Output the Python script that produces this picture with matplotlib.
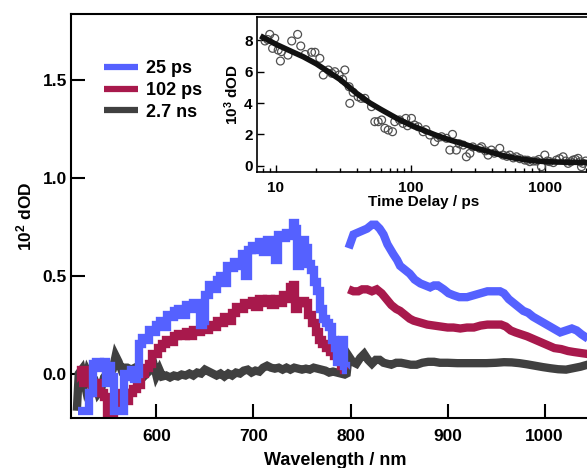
import numpy as np
import matplotlib
matplotlib.use("Agg")
import matplotlib.pyplot as plt
from matplotlib.ticker import FixedLocator, NullFormatter

plt.rcParams['font.family'] = ['Liberation Sans', 'DejaVu Sans']
plt.rcParams['font.weight'] = 'bold'
plt.rcParams['mathtext.default'] = 'regular'

# ---- transient spectra (wavelength in nm, 10^2 dOD) ----
# 25 ps, part below the 800 nm break
wl_25a = [519, 524, 529, 533, 536, 540, 544, 547, 550, 552, 555, 558, 562, 566, 568, 572, 575, 578,
          581, 584, 587, 590, 594, 598, 602, 606, 609, 612, 616, 620, 624, 628, 632, 636, 640, 643,
          646, 649, 652, 656, 660, 664, 668, 671, 674, 678, 682, 686, 690, 693, 696, 700, 704, 708,
          712, 716, 720, 724, 727, 731, 735, 739, 742, 744, 746, 749, 752, 755, 758, 761, 764, 767,
          770, 773, 776, 779, 782, 785, 788, 790, 792, 794, 796]
od_25a = [-0.19, -0.19, -0.19, -0.10, 0.05, 0.06, 0.03, 0.06, -0.05, 0.04, -0.02, -0.19, -0.19, -0.19,
          0.0, -0.02, 0.02, -0.03, 0.0, 0.15, 0.18, 0.17, 0.22, 0.21, 0.25, 0.27, 0.24, 0.30, 0.29,
          0.32, 0.33, 0.30, 0.35, 0.33, 0.36, 0.34, 0.25, 0.27, 0.40, 0.45, 0.43, 0.48, 0.50, 0.46,
          0.55, 0.54, 0.57, 0.55, 0.61, 0.50, 0.63, 0.65, 0.63, 0.67, 0.62, 0.68, 0.66, 0.58, 0.71,
          0.69, 0.72, 0.70, 0.77, 0.74, 0.55, 0.60, 0.68, 0.64, 0.56, 0.53, 0.47, 0.42, 0.33, 0.28,
          0.26, 0.24, 0.17, 0.13, 0.06, 0.10, 0.17, 0.04, 0.02]
# 25 ps, part above the break
wl_25b = [798, 803, 810, 817, 822, 826, 830, 834, 838, 844, 848, 851, 856, 861, 866, 872, 877, 882,
          886, 890, 896, 901, 906, 912, 920, 927, 934, 941, 948, 954, 958, 963, 968, 973, 978, 983,
          988, 995, 1002, 1009, 1016, 1022, 1028, 1033, 1038, 1044, 1050, 1056]
od_25b = [0.64, 0.71, 0.725, 0.74, 0.76, 0.76, 0.74, 0.71, 0.66, 0.61, 0.58, 0.55, 0.53, 0.51, 0.48,
          0.46, 0.45, 0.44, 0.45, 0.45, 0.43, 0.41, 0.40, 0.39, 0.39, 0.40, 0.41, 0.42, 0.42, 0.42,
          0.41, 0.38, 0.36, 0.34, 0.32, 0.31, 0.29, 0.27, 0.25, 0.23, 0.21, 0.22, 0.23, 0.22, 0.20,
          0.18, 0.16, 0.15]

wl_102a = [520, 524, 528, 532, 536, 540, 544, 548, 551, 555, 558, 562, 566, 570, 574, 578, 582, 586,
           590, 594, 597, 600, 604, 608, 612, 616, 620, 624, 628, 632, 636, 640, 644, 648, 652, 656,
           660, 664, 668, 672, 676, 680, 684, 688, 692, 696, 700, 704, 708, 712, 716, 720, 724, 728,
           732, 736, 740, 742, 744, 747, 751, 755, 758, 762, 766, 769, 773, 777, 781, 785, 789, 792, 795]
od_102a = [-0.05, 0.02, 0.02, -0.05, -0.10, -0.05, -0.10, -0.12, -0.20, -0.20, -0.15, -0.12, -0.10,
           -0.14, -0.10, -0.08, -0.06, 0.0, 0.03, 0.05, 0.10, 0.10, 0.13, 0.15, 0.17, 0.16, 0.19, 0.20,
           0.19, 0.21, 0.19, 0.22, 0.21, 0.23, 0.22, 0.25, 0.24, 0.27, 0.26, 0.29, 0.27, 0.31, 0.34,
           0.33, 0.36, 0.35, 0.37, 0.34, 0.38, 0.36, 0.38, 0.35, 0.38, 0.36, 0.40, 0.38, 0.44, 0.45,
           0.33, 0.36, 0.37, 0.36, 0.30, 0.26, 0.21, 0.17, 0.15, 0.13, 0.11, 0.09, 0.07, 0.04, 0.02]
wl_102b = [798, 803, 808, 812, 817, 822, 827, 832, 837, 842, 847, 851, 856, 861, 865, 872, 879, 886,
           893, 900, 906, 913, 920, 927, 934, 941, 948, 955, 960, 965, 970, 976, 982, 989, 996, 1003,
           1010, 1017, 1024, 1030, 1037, 1044, 1050, 1056]
od_102b = [0.43, 0.42, 0.42, 0.43, 0.43, 0.42, 0.43, 0.41, 0.38, 0.35, 0.33, 0.32, 0.30, 0.28, 0.27,
           0.26, 0.25, 0.245, 0.24, 0.235, 0.235, 0.23, 0.235, 0.235, 0.245, 0.25, 0.25, 0.25, 0.24,
           0.22, 0.21, 0.20, 0.19, 0.175, 0.16, 0.145, 0.13, 0.125, 0.115, 0.11, 0.105, 0.10, 0.095, 0.09]

wl_27 = [518, 520, 523, 526, 529, 532, 536, 540, 543, 546, 549, 552, 555, 558, 561, 564, 567, 570,
         574, 578, 582, 586, 590, 594, 597, 600, 603, 606, 610, 614, 618, 622, 626, 630, 634, 638,
         642, 646, 650, 654, 658, 662, 666, 670, 674, 678, 682, 686, 690, 694, 698, 702, 706, 710,
         714, 718, 722, 726, 730, 734, 738, 742, 746, 750, 754, 758, 762, 766, 770, 774, 778, 782,
         786, 790, 794, 796, 798, 802, 806, 810, 814, 818, 822, 826, 830, 834, 838, 842, 847, 852,
         857, 862, 868, 874, 880, 886, 892, 900, 910, 920, 930, 940, 950, 958, 966, 974, 982, 990,
         998, 1006, 1014, 1022, 1030, 1037, 1044, 1050, 1056]
od_27 = [-0.19, 0.0, 0.02, -0.05, 0.01, -0.02, -0.03, -0.10, -0.08, -0.02, 0.0, 0.0, 0.02, 0.09, 0.06,
         0.02, 0.03, 0.03, 0.02, 0.03, 0.01, -0.02, 0.0, 0.02, 0.05, -0.01, 0.02, -0.015, -0.01, -0.02,
         -0.01, -0.015, -0.005, -0.01, 0.0, -0.01, 0.005, 0.0, 0.02, 0.01, 0.0, -0.01, 0.0, -0.015,
         0.0, -0.01, 0.005, 0.0, 0.015, 0.02, 0.005, 0.015, 0.01, 0.03, 0.04, 0.03, 0.025, 0.03, 0.02,
         0.03, 0.02, 0.03, 0.025, 0.02, 0.025, 0.02, 0.03, 0.025, 0.02, 0.015, 0.005, 0.01, 0.005,
         0.0, -0.005, 0.0, 0.09, 0.06, 0.05, 0.08, 0.10, 0.07, 0.05, 0.07, 0.07, 0.055, 0.05, 0.045,
         0.055, 0.055, 0.05, 0.045, 0.045, 0.055, 0.06, 0.06, 0.055, 0.055, 0.053, 0.053, 0.053,
         0.053, 0.055, 0.058, 0.057, 0.053, 0.047, 0.04, 0.033, 0.027, 0.022, 0.02, 0.028, 0.035,
         0.045, 0.05, 0.05]

# ---- kinetic trace (time in ps, 10^3 dOD) ----
t_pts = [8.3, 9.0, 9.8, 9.45, 10.4, 11.0, 10.8, 12.3, 13.1, 14.5, 15.3, 18.4, 19.5, 21.2, 22.5, 24.5,
         27.4, 29.5, 32.5, 31.3, 35.0, 35.4, 37.5, 40.8, 45.8, 51.3, 54.3, 57.5, 61.0, 64.5, 68.3,
         73.5, 76.4, 83.0, 88.0, 92.3, 101.6, 107, 113.7, 124, 139, 151, 170, 185, 205, 196, 219,
         246, 260, 276, 327, 337, 377, 399, 460, 487, 546, 612, 706, 769, 861, 939, 994, 1082, 1213,
         1359, 1481, 1612, 1756, 1912, 1862, 8.7, 16.5, 26.0, 43.0, 95.0, 130, 160, 230, 290, 360,
         420, 520, 580, 650, 740, 820, 900, 1040, 1150, 1280, 1420, 1550, 1680, 1820, 2000]
od_pts = [7.96, 8.38, 8.13, 7.49, 7.38, 7.28, 6.68, 7.06, 7.96, 8.38, 7.64, 7.24, 7.24, 6.85, 5.79,
          6.11, 6.0, 5.79, 6.11, 5.51, 5.04, 3.98, 4.68, 4.4, 4.3, 3.77, 2.81, 2.81, 2.92, 2.39, 2.28,
          2.17, 2.81, 2.92, 2.7, 3.02, 3.02, 2.6, 2.49, 2.17, 1.96, 1.53, 1.85, 1.75, 2.0, 1.0, 1.0,
          1.32, 0.57, 0.79, 1.11, 1.21, 0.68, 1.0, 1.11, 0.68, 0.68, 0.57, 0.36, 0.26, 0.3, -0.06,
          0.68, 0.26, 0.36, 0.57, 0.15, 0.36, 0.47, 0.15, -0.06, 8.05, 7.1, 5.9, 4.3, 2.55, 2.3, 1.8,
          1.4, 1.2, 0.95, 0.8, 0.6, 0.5, 0.45, 0.35, 0.3, 0.4, 0.3, 0.2, 0.45, 0.3, 0.25, 0.4, 0.25, 0.3]
t_fit = [8, 10, 13, 16, 20, 25, 30, 40, 50, 60, 80, 100, 130, 160, 200, 250, 300, 400, 500, 600,
         800, 1000, 1300, 1600, 2000, 2200]
od_fit = [8.2, 7.75, 7.3, 6.95, 6.5, 5.95, 5.5, 4.6, 4.0, 3.6, 3.0, 2.6, 2.2, 1.9, 1.62, 1.38, 1.15,
          0.85, 0.62, 0.48, 0.33, 0.26, 0.23, 0.22, 0.21, 0.21]

labels = ['25 ps', '102 ps', '2.7 ns']
colors = ['#5561ff', '#a8194c', '#404040']

fig = plt.figure(figsize=(5.87, 4.68), dpi=100)
ax = fig.add_axes([71 / 587, 1 - 418 / 468, 529 / 587, 404 / 468])

lw = 6
kw = dict(lw=lw, solid_joinstyle='miter', solid_capstyle='butt')
ax.plot(wl_27, od_27, color=colors[2], **kw)
ax.plot(wl_102a, od_102a, color=colors[1], drawstyle='steps-mid', **kw)
ax.plot(wl_102b, od_102b, color=colors[1], **kw)
ax.plot(wl_25a, od_25a, color=colors[0], drawstyle='steps-mid', **kw)
ax.plot(wl_25b, od_25b, color=colors[0], **kw)

ax.set_xlim(512, 1057)
ax.set_ylim(-0.227, 1.836)
ax.set_xticks([600, 700, 800, 900, 1000])
ax.set_yticks([0.0, 0.5, 1.0, 1.5])
ax.set_yticklabels(['0.0', '0.5', '1.0', '1.5'])
ax.tick_params(direction='in', length=10, width=1.5, labelsize=12.5)
ax.tick_params(axis='x', pad=8)
ax.tick_params(axis='y', pad=3)
for s in ax.spines.values():
    s.set_linewidth(1.5)
ax.set_xlabel('Wavelength / nm', fontsize=13, fontweight='bold', labelpad=6)
ax.set_ylabel('10$^{2}$ dOD', fontsize=12.5, fontweight='bold', labelpad=6)

handles = [plt.Line2D([], [], color=c, lw=4.5, solid_capstyle='butt') for c in colors]
fig.legend(handles, labels, loc='upper left', bbox_to_anchor=(104 / 587, 1 - 60 / 468),
           frameon=False, fontsize=13, handlelength=1.9, handletextpad=0.45,
           labelspacing=0.27, borderpad=0, borderaxespad=0)

# inset with the kinetic trace
ins = fig.add_axes([256.7 / 587, 1 - 172 / 468, 334 / 587, 155 / 468])
ins.scatter(t_pts, od_pts, s=32, facecolors='none', edgecolors='#505050', linewidths=0.9, zorder=2)
ins.plot(t_fit, od_fit, color='#111111', lw=4, zorder=3)
ins.set_xscale('log')
ins.set_xlim(7.2, 2180)
ins.set_ylim(-0.4, 9.49)
ins.xaxis.set_major_locator(FixedLocator([10, 100, 1000]))
ins.set_xticklabels(['10', '100', '1000'])
minor = [m * 10 ** e for e in range(0, 4) for m in range(2, 10)]
ins.xaxis.set_minor_locator(FixedLocator(minor))
ins.xaxis.set_minor_formatter(NullFormatter())
ins.set_yticks([0, 2, 4, 6, 8])
ins.tick_params(which='major', direction='in', length=5, width=1, labelsize=11)
ins.tick_params(which='minor', direction='in', length=3, width=1)
ins.tick_params(axis='x', which='major', pad=6.5)
ins.tick_params(axis='y', pad=3)
for s in ins.spines.values():
    s.set_linewidth(1.2)
ins.set_xlabel('Time Delay / ps', fontsize=11, fontweight='bold', labelpad=0)
ins.set_ylabel('10$^{3}$ dOD', fontsize=11, fontweight='bold', labelpad=2)

fig.savefig('out.png', dpi=100)
